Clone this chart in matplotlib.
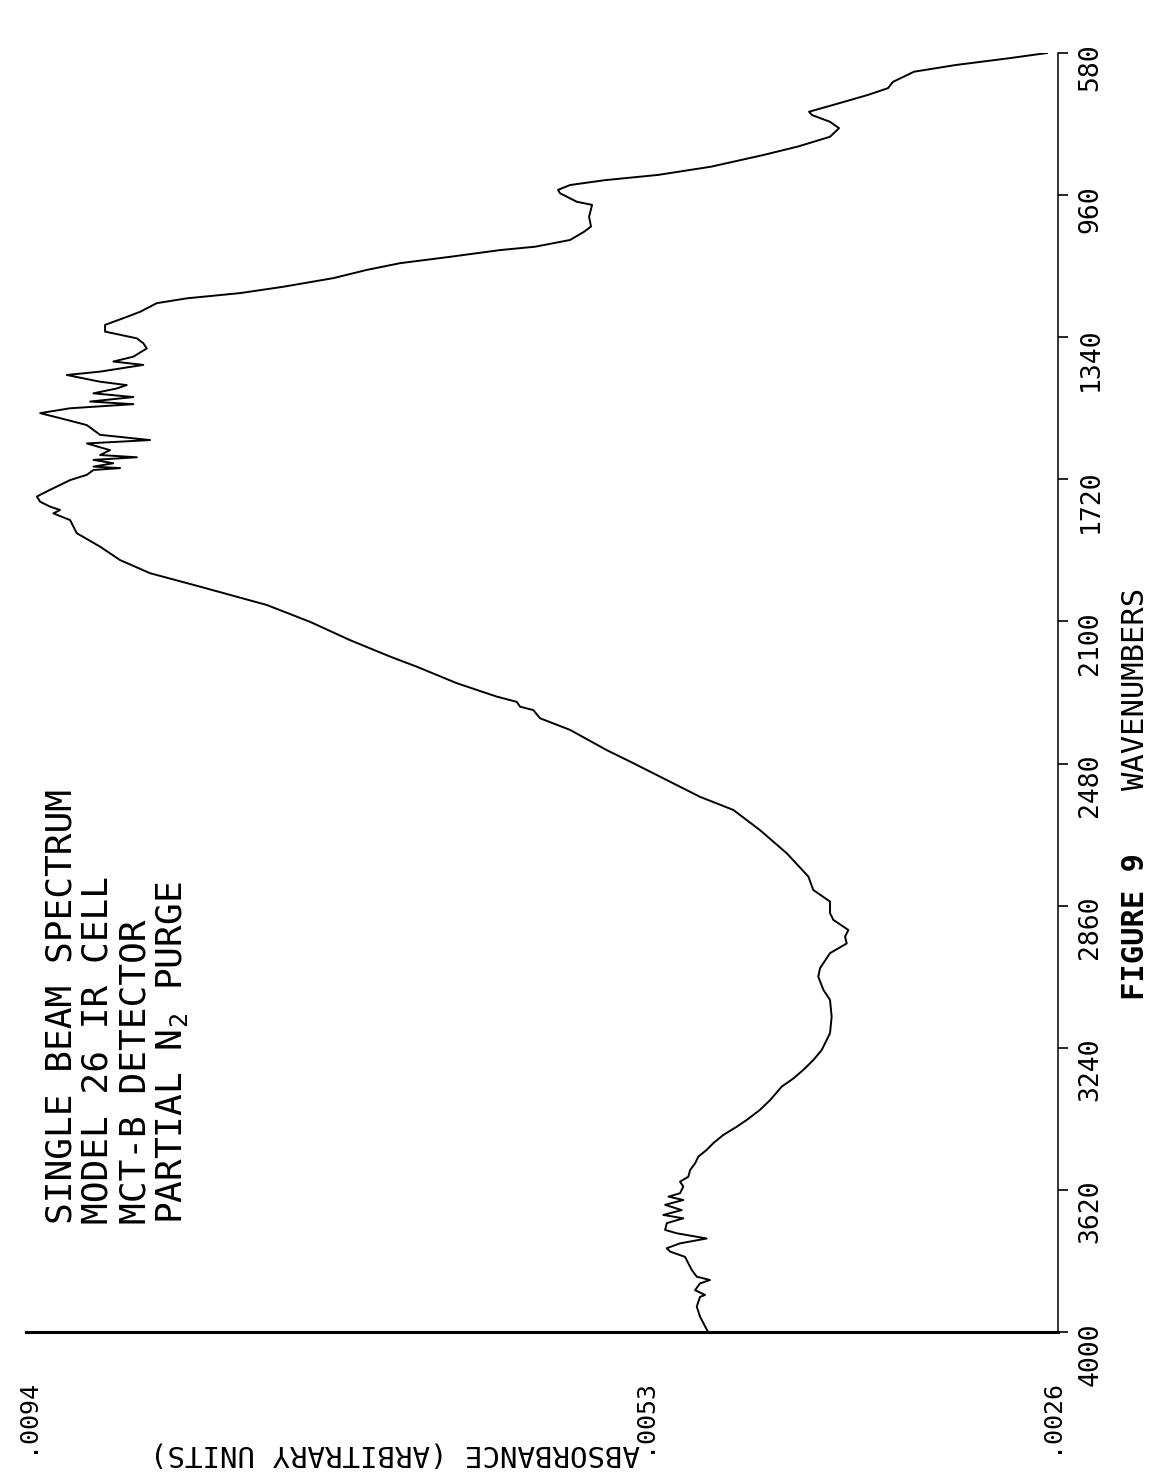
import matplotlib
matplotlib.use('Agg')
import matplotlib.pyplot as plt

# single beam IR spectrum, page is turned: absorbance runs along the bottom
# (high on the left), wavenumber runs up the right hand side (4000 at bottom)
wavenumber = [4000, 3959, 3932, 3906, 3901, 3888, 3870, 3861, 3852, 3834,
              3816, 3799, 3785, 3776, 3763, 3750, 3736, 3727, 3709, 3696,
              3687, 3674, 3660, 3647, 3638, 3629, 3611, 3598, 3585, 3567,
              3549, 3531, 3513, 3495, 3473, 3451, 3433, 3406, 3380, 3344,
              3322, 3299, 3273, 3246, 3201, 3157, 3112, 3085, 3050, 3027,
              2987, 2961, 2943, 2925, 2898, 2880, 2849, 2818, 2782, 2720,
              2658, 2604, 2569, 2524, 2479, 2444, 2390, 2359, 2337, 2328,
              2315, 2301, 2265, 2221, 2194, 2150, 2101, 2056, 2007, 1971,
              1936, 1900, 1864, 1829, 1811, 1802, 1793, 1780, 1766, 1748,
              1722, 1708, 1695, 1690, 1686, 1677, 1668, 1661, 1655, 1642,
              1624, 1615, 1601, 1575, 1561, 1543, 1530, 1519, 1512, 1500,
              1490, 1477, 1468, 1459, 1441, 1432, 1414, 1405, 1392, 1370,
              1356, 1343, 1325, 1307, 1289, 1272, 1249, 1236, 1222, 1205,
              1182, 1160, 1142, 1125, 1107, 1098, 1080, 1058, 1044, 1018,
              986, 978, 955, 946, 933, 920, 906, 884, 853, 830,
              804, 781, 764, 746, 737, 719, 692, 674, 657, 630,
              612, 594, 580]
absorbance = [.004871, .004924, .004946, .004924, .004891, .004957, .004924, .004858, .004946, .004979,
              .005002, .005024, .005123, .005145, .005057, .004880, .005079, .005156, .005145, .005035,
              .005168, .005046, .005156, .005035, .005134, .005057, .005035, .005057, .005002, .004990,
              .004957, .004935, .004880, .004836, .004769, .004680, .004614, .004526, .004459, .004382,
              .004304, .004238, .004172, .004116, .004061, .004050, .004061, .004105, .004139, .004127,
              .004061, .003950, .003961, .003939, .004039, .004061, .004061, .004172, .004205, .004348,
              .004526, .004703, .004924, .005145, .005367, .005544, .005787, .005986, .006031, .006119,
              .006141, .006274, .006540, .006805, .006982, .007248, .007514, .007801, .008244, .008576,
              .008775, .008908, .009063, .009107, .009218, .009174, .009240, .009306, .009328, .009240,
              .009107, .008996, .008952, .008775, .008952, .008820, .008952, .008664, .008908, .008842,
              .008996, .008576, .008908, .008996, .009129, .009306, .009107, .008687, .008974, .008687,
              .008952, .008797, .008731, .008908, .009129, .008908, .008621, .008820, .008687, .008598,
              .008621, .008664, .008875, .008875, .008753, .008642, .008532, .008332, .007978, .007691,
              .007359, .007137, .006916, .006584, .006252, .006020, .005787, .005694, .005648, .005661,
              .005641, .005741, .005854, .005867, .005787, .005555, .005203, .004851, .004506, .004273,
              .004061, .004001, .004061, .004180, .004200, .004041, .003808, .003676, .003642, .003503,
              .003224, .002872, .002620]

wn_ticks = [4000, 3620, 3240, 2860, 2480, 2100, 1720, 1340, 960, 580]
wn_labels = ['4000', '3620', '3240', '2860', '2480', '2100', '1720', '1340', '960', '580']
abs_ticks = [.0094, .0053, .0026]
abs_labels = ['.0094', '.0053', '.0026']
caption = ['SINGLE BEAM SPECTRUM', 'MODEL 26 IR CELL', 'MCT-B DETECTOR',
           r'PARTIAL $\mathrm{N}_\mathrm{2}$ PURGE']

plt.rcParams['font.family'] = 'DejaVu Sans Mono'
plt.rcParams['mathtext.fontset'] = 'custom'
plt.rcParams['mathtext.rm'] = 'DejaVu Sans Mono'

W, H = 1154, 1479
fig = plt.figure(figsize=(W / 100, H / 100), dpi=100)


def fx(x):
    return x / W


def fy(y):
    return 1 - y / H


ax = fig.add_axes([fx(26), fy(1332), (1058 - 26) / W, (1332 - 53) / H])
ax.plot(absorbance, wavenumber, color='black', lw=1.4)
# the wavenumber axis sits a little past the .0026 mark
ax.set_xlim(.0094, .002547)
ax.set_ylim(4000, 580)

for side in ['top', 'left']:
    ax.spines[side].set_visible(False)
ax.spines['bottom'].set_linewidth(2.2)
ax.spines['right'].set_linewidth(1.1)

ax.yaxis.tick_right()
ax.set_yticks(wn_ticks)
ax.set_yticklabels(wn_labels)
ax.tick_params(axis='y', direction='out', length=7, width=1.2, pad=7,
               labelsize=19, labelrotation=90)
ax.set_xticks(abs_ticks)
ax.set_xticklabels(abs_labels)
ax.tick_params(axis='x', length=0, pad=33, labelsize=18, labelrotation=90)

# caption block, reads bottom to top
for i, line in enumerate(caption):
    fig.text(fx(71 + 37 * i), fy(1224), line, rotation=90, rotation_mode='anchor',
             ha='left', va='baseline', fontsize=26)

fig.text(fx(1144), fy(790), 'WAVENUMBERS', rotation=90, rotation_mode='anchor',
         ha='left', va='baseline', fontsize=22)
fig.text(fx(1144), fy(1000), 'FIGURE 9', rotation=90, rotation_mode='anchor',
         ha='left', va='baseline', fontsize=22, fontweight='bold')
fig.text(fx(640), fy(1445), 'ABSORBANCE (ARBITRARY UNITS)', rotation=180,
         rotation_mode='anchor', ha='left', va='baseline', fontsize=21)

fig.savefig('out.png', dpi=100, facecolor='white')
